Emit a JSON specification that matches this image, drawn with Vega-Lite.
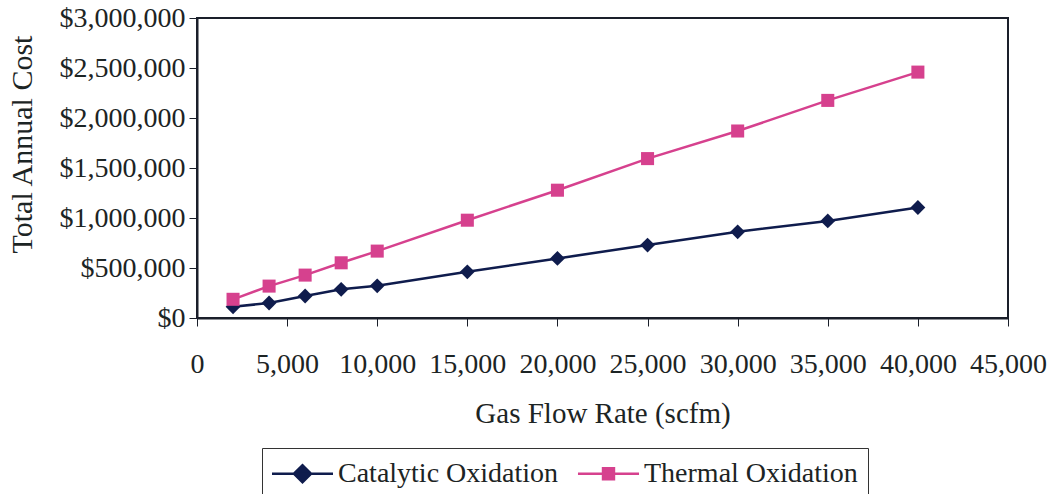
{
  "$schema": "https://vega.github.io/schema/vega-lite/v6.json",
  "width": 811,
  "height": 300,
  "autosize": {"type": "none"},
  "padding": {"left": 197, "top": 18, "right": 49, "bottom": 176},
  "background": "white",
  "config": {
    "font": "Liberation Serif",
    "view": {"stroke": "#1a1f2a", "strokeWidth": 2},
    "axis": {
      "grid": false,
      "labelFont": "Liberation Serif",
      "titleFont": "Liberation Serif",
      "labelFontSize": 28,
      "titleFontSize": 29,
      "labelColor": "#1c2424",
      "titleColor": "#1c2424",
      "titleFontWeight": "normal",
      "domainColor": "#1a1f2a",
      "domainWidth": 2,
      "tickColor": "#1a1f2a",
      "tickWidth": 1,
      "tickSize": 8
    }
  },
  "data": {
    "values": [
      {"flow": 2000, "cost": 112000, "type": "Catalytic Oxidation"},
      {"flow": 4000, "cost": 150000, "type": "Catalytic Oxidation"},
      {"flow": 6000, "cost": 220000, "type": "Catalytic Oxidation"},
      {"flow": 8000, "cost": 287000, "type": "Catalytic Oxidation"},
      {"flow": 10000, "cost": 322000, "type": "Catalytic Oxidation"},
      {"flow": 15000, "cost": 462000, "type": "Catalytic Oxidation"},
      {"flow": 20000, "cost": 596000, "type": "Catalytic Oxidation"},
      {"flow": 25000, "cost": 729000, "type": "Catalytic Oxidation"},
      {"flow": 30000, "cost": 862000, "type": "Catalytic Oxidation"},
      {"flow": 35000, "cost": 971000, "type": "Catalytic Oxidation"},
      {"flow": 40000, "cost": 1105000, "type": "Catalytic Oxidation"},
      {"flow": 2000, "cost": 187000, "type": "Thermal Oxidation"},
      {"flow": 4000, "cost": 319000, "type": "Thermal Oxidation"},
      {"flow": 6000, "cost": 429000, "type": "Thermal Oxidation"},
      {"flow": 8000, "cost": 552000, "type": "Thermal Oxidation"},
      {"flow": 10000, "cost": 669000, "type": "Thermal Oxidation"},
      {"flow": 15000, "cost": 978000, "type": "Thermal Oxidation"},
      {"flow": 20000, "cost": 1278000, "type": "Thermal Oxidation"},
      {"flow": 25000, "cost": 1594000, "type": "Thermal Oxidation"},
      {"flow": 30000, "cost": 1870000, "type": "Thermal Oxidation"},
      {"flow": 35000, "cost": 2176000, "type": "Thermal Oxidation"},
      {"flow": 40000, "cost": 2459000, "type": "Thermal Oxidation"}
    ]
  },
  "encoding": {
    "x": {
      "field": "flow",
      "type": "quantitative",
      "scale": {"domain": [0, 45000], "nice": false, "zero": true},
      "axis": {
        "title": "Gas Flow Rate (scfm)",
        "values": [0, 5000, 10000, 15000, 20000, 25000, 30000, 35000, 40000, 45000],
        "format": ",d",
        "labelBaseline": "alphabetic",
        "labelPadding": 46,
        "labelFlush": false,
        "titleBaseline": "alphabetic",
        "titleY": 104
      }
    },
    "y": {
      "field": "cost",
      "type": "quantitative",
      "scale": {"domain": [0, 3000000], "nice": false},
      "axis": {
        "title": "Total Annual Cost",
        "values": [0, 500000, 1000000, 1500000, 2000000, 2500000, 3000000],
        "format": "$,.0f",
        "labelPadding": 4,
        "labelFlush": false,
        "titleFontSize": 30,
        "titleX": -160,
        "titleY": 126
      }
    },
    "color": {
      "field": "type",
      "type": "nominal",
      "scale": {
        "domain": ["Catalytic Oxidation", "Thermal Oxidation"],
        "range": ["#0f1c4d", "#d6418e"]
      },
      "legend": {
        "title": null,
        "orient": "none",
        "direction": "horizontal",
        "legendX": 65,
        "legendY": 430,
        "padding": 10,
        "strokeColor": "#333333",
        "fillColor": "white",
        "labelFont": "Liberation Serif",
        "labelFontSize": 28,
        "labelColor": "#1c2424",
        "labelOffset": 20,
        "labelLimit": 400,
        "columnPadding": 13,
        "symbolSize": 784,
        "symbolOffset": 15,
        "symbolStrokeWidth": 2.5,
        "encode": {
          "symbols": {
            "update": {
              "shape": {"signal": "datum.value === 'Catalytic Oxidation' ? 'M-2.18,0L2.18,0M-0.61,0L0,-0.61L0.61,0L0,0.61Z' : 'M-2.18,0L2.18,0M-0.39,-0.39L0.39,-0.39L0.39,0.39L-0.39,0.39Z'"},
              "fill": {"signal": "datum.value === 'Catalytic Oxidation' ? '#0f1c4d' : '#d6418e'"},
              "stroke": {"signal": "datum.value === 'Catalytic Oxidation' ? '#0f1c4d' : '#d6418e'"},
              "strokeWidth": {"value": 2.5},
              "opacity": {"value": 1},
              "fillOpacity": {"value": 1}
            }
          }
        }
      }
    }
  },
  "layer": [
    {
      "mark": {"type": "line", "strokeWidth": 2.5}
    },
    {
      "transform": [{"filter": "datum.type === 'Catalytic Oxidation'"}],
      "mark": {"type": "point", "filled": true, "opacity": 1, "shape": "diamond", "size": 220}
    },
    {
      "transform": [{"filter": "datum.type === 'Thermal Oxidation'"}],
      "mark": {"type": "point", "filled": true, "opacity": 1, "shape": "square", "size": 170}
    }
  ]
}
